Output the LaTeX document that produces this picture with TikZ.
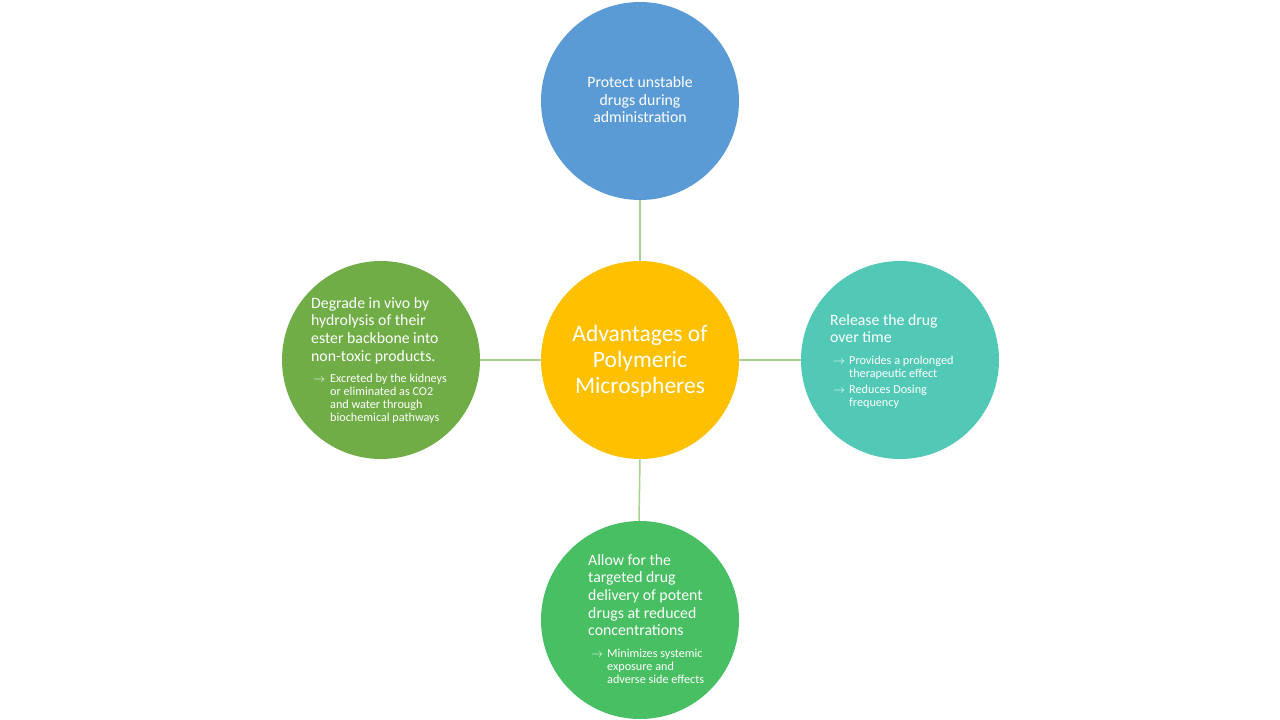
\documentclass[tikz,border=0pt]{standalone}
\usepackage{fontspec}
\setmainfont{Carlito}
\begin{document}
\begin{tikzpicture}[x=1pt,y=-1pt,
  bubble/.style={circle,minimum size=198pt,inner sep=0pt,draw=none},
  link/.style={draw=linkgreen,line width=1.5pt},
  maintext/.style={text=white,inner sep=0pt,anchor=north west,align=left,font=\fontsize{15.8}{17.7}\selectfont},
  subtext/.style={text=white,inner sep=0pt,anchor=north west,align=left,font=\fontsize{12.2}{13.1}\selectfont},
  arrowmark/.style={text=white,inner sep=0pt,anchor=north west,font=\fontsize{13}{13}\selectfont}]
\definecolor{linkgreen}{HTML}{A9D18E}
\definecolor{cblue}{HTML}{5B9BD5}
\definecolor{cgold}{HTML}{FFC000}
\definecolor{cleaf}{HTML}{70AD47}
\definecolor{cteal}{HTML}{52C9B6}
\definecolor{cgreen}{HTML}{48BF63}
\useasboundingbox (0,0) rectangle (1280,720);
\fill[white] (0,0) rectangle (1280,720);

% circles
\node[bubble,fill=cgold]  (hub)    at (640,360) {};
\node[bubble,fill=cblue]  (top)    at (640,101) {};
\node[bubble,fill=cleaf]  (left)   at (381,360) {};
\node[bubble,fill=cteal]  (right)  at (900,360) {};
\node[bubble,fill=cgreen] (bottom) at (640,620) {};

% connectors
\draw[link] (top.south) -- (hub.north);
\draw[link] (hub.south) -- ([xshift=-1pt]bottom.north);
\draw[link] (left.east) -- (hub.west);
\draw[link] (hub.east) -- (right.west);

% hub title
\node[text=white,align=center,inner sep=0pt,font=\fontsize{23.5}{26}\selectfont] (hubtext) at (640,361)
  {Advantages of\\Polymeric\\Microspheres};

% top
\node[text=white,align=center,inner sep=0pt,font=\fontsize{15.8}{17.5}\selectfont] (toptext) at (640,100)
  {Protect unstable\\drugs during\\administration};

% left
\node[maintext] (lefttext) at (311,297)
  {Degrade in vivo by\\hydrolysis of their\\ester backbone into\\non-toxic products.};
\node[arrowmark] (leftarr) at (313,378) {$\rightarrow$};
\node[subtext] (leftsub) at (330,374)
  {Excreted by the kidneys\\or eliminated as CO2\\and water through\\biochemical pathways};

% right
\node[maintext] (righttext) at (830,314)
  {Release the drug\\over time};
\node[arrowmark] (rightarr1) at (833,360) {$\rightarrow$};
\node[subtext] (rightsub1) at (849,356)
  {Provides a prolonged\\therapeutic effect};
\node[arrowmark] (rightarr2) at (833,389) {$\rightarrow$};
\node[subtext] (rightsub2) at (849,385)
  {Reduces Dosing\\frequency};

% bottom
\node[maintext] (bottomtext) at (588,554)
  {Allow for the\\targeted drug\\delivery of potent\\drugs at reduced\\concentrations};
\node[arrowmark] (bottomarr) at (591,653) {$\rightarrow$};
\node[subtext] (bottomsub) at (607,649)
  {Minimizes systemic\\exposure and\\adverse side effects};
\end{tikzpicture}
\end{document}
